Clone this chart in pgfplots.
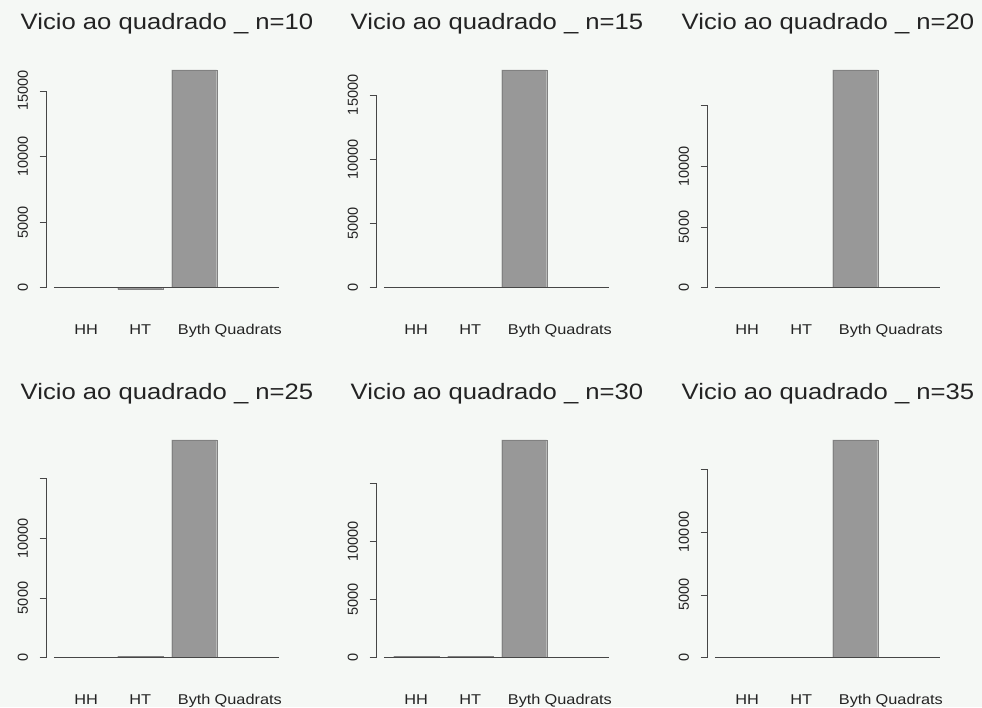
\documentclass[border=0pt]{standalone}
\usepackage{fontspec}
\setmainfont[FakeStretch=1.15]{Liberation Sans}
\newfontfamily\plainsans{Liberation Sans}
\usepackage{pgfplots}
\pgfplotsset{compat=1.18}
\definecolor{bg}{RGB}{245,248,245}
\definecolor{barfill}{RGB}{152,152,152}
\definecolor{axcol}{RGB}{70,70,70}
\definecolor{txt}{RGB}{35,35,35}
\pgfplotsset{rpanel/.style={
  scale only axis, width=232.4pt, height=235.3pt,
  xmin=-0.18, xmax=4.984,
  clip=false,
  scaled y ticks=false,
  axis line style={draw=none},
  tick pos=left, tick align=outside,
  major tick length=7pt,
  xtick={0.7,1.9,3.1,4.3}, xticklabels={HH,HT,Byth,Quadrats},
  xtick style={draw=none},
  ytick={0,5000,10000,15000},
  ytick style={draw=axcol, line width=0.6pt},
  xticklabel style={anchor=base, yshift=-31pt, font=\fontsize{14.2}{16}\selectfont, text=txt},
  yticklabel style={rotate=90, anchor=south, inner sep=0pt, font=\plainsans\fontsize{14.5}{16}\selectfont, text=txt},
  yticklabel shift=11.4pt,
  title style={at={(0.518,1)}, anchor=base, yshift=25.7pt, font=\fontsize{22.3}{26}\selectfont, text=txt},
  anchor=south west,
}}
\pgfplotstableread{
x y1 y2 y3 y4 y5 y6
0.7 0 0 0 0 130 0
1.9 -120 0 0 130 130 0
3.1 16600 16950 17930 18230 18740 17330
4.3 0 0 0 0 0 0
}\datatab
\newcommand{\panel}[6]{%
\begin{axis}[rpanel, at={(#1pt,-#2pt)}, ymin=-#3*0.04, ymax=#3*1.04,
  title={Vicio ao quadrado \_ n=#4}, yticklabels={#6}]
\addplot[ybar, bar width=1, fill=barfill, draw=barfill!85!black, line width=0.4pt] table[x=x, y=#5] {\datatab};
\addplot[draw=axcol, line width=0.6pt] coordinates {(-0.016,0) (4.984,0)};
\addplot[draw=axcol, line width=0.6pt] coordinates {(-0.18,0) (-0.18,15000)};
\end{axis}}
\begin{document}
\begin{tikzpicture}
\fill[bg] (0,0) rectangle (982pt,-707pt);
\path[use as bounding box] (0,0) rectangle (982pt,-707pt);
\panel{46.6}{296.4}{16600}{10}{y1}{0,5000,10000,15000}
\panel{376.6}{296.4}{16950}{15}{y2}{0,5000,10000,15000}
\panel{707.6}{296.4}{17930}{20}{y3}{0,5000,10000,{}}
\panel{46.6}{666.4}{18230}{25}{y4}{0,5000,10000,{}}
\panel{376.6}{666.4}{18740}{30}{y5}{0,5000,10000,{}}
\panel{707.6}{666.4}{17330}{35}{y6}{0,5000,10000,{}}
\end{tikzpicture}
\end{document}
